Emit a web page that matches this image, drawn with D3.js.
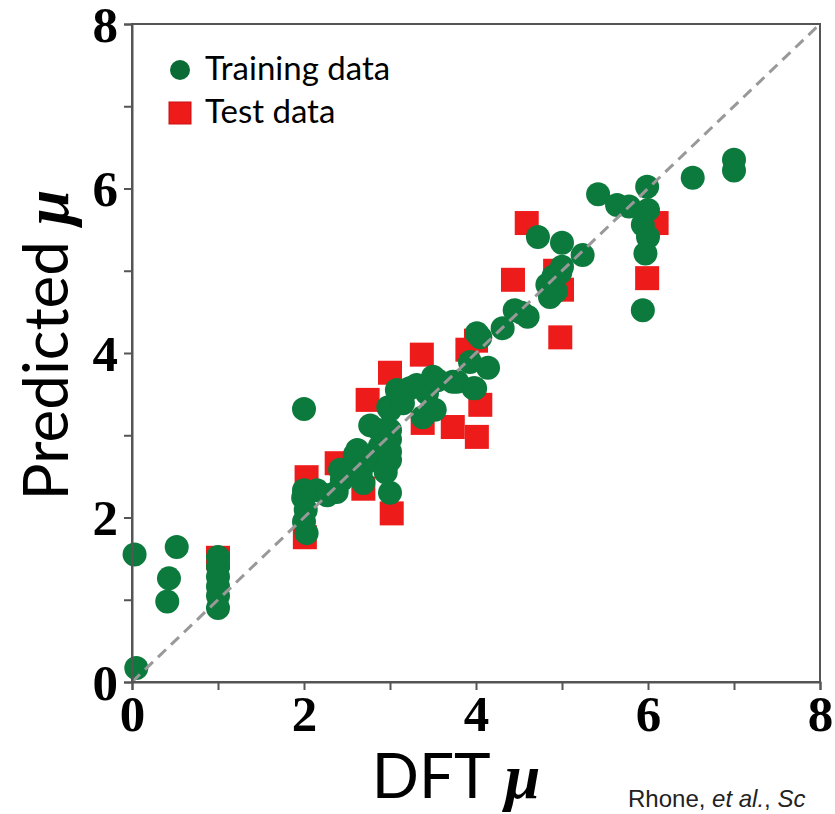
<!DOCTYPE html>
<html><head><meta charset="utf-8">
<script src="https://cdn.jsdelivr.net/npm/d3@7"></script>
<style>body{margin:0;background:#fff;}svg{display:block;}</style>
</head><body>
<script>
const trainX = [0.03,0.05,0.52,0.43,0.41,1,1,1,1,1,1,
 2.0,2.0,1.99,2.02,2.03,2.0,2.15,2.27,2.38,2.44,2.42,2.55,2.59,2.62,2.69,2.66,2.77,2.88,2.8,2.97,3.0,2.95,3.0,3.0,2.98,2.88,3.0,3.0,3.0,
 3.08,3.14,3.15,3.23,3.31,3.38,3.43,3.5,3.52,3.55,3.73,3.78,3.97,3.99,3.93,4.14,4.01,4.05,4.31,4.45,4.6,4.53,
 4.83,4.9,5.0,4.86,4.93,4.98,4.72,5.0,5.24,5.42,5.64,5.78,5.99,6.0,5.94,6.0,5.97,5.94,6.52,7.0,7.0];
const trainY = [1.55,0.17,1.64,1.26,0.98,1.52,1.4,1.28,1.16,1.05,0.9,
 3.32,2.33,2.24,2.09,1.81,1.95,2.33,2.27,2.31,2.46,2.58,2.6,2.76,2.82,2.42,2.55,3.12,2.86,2.7,2.66,2.3,2.55,2.8,2.95,3.34,3.06,3.31,3.06,2.7,
 3.55,3.53,3.39,3.57,3.61,3.22,3.51,3.71,3.31,3.67,3.65,3.65,3.57,3.57,3.89,3.82,4.24,4.19,4.3,4.52,4.44,4.49,
 4.83,4.93,5.05,4.68,4.75,4.98,5.41,5.34,5.19,5.93,5.8,5.78,6.02,5.74,5.56,5.41,5.21,4.52,6.13,6.35,6.22];
const testX = [1.0,2.03,2.01,2.38,2.69,2.74,3.02,3.0,3.37,3.38,3.73,4.01,4.05,3.9,4.0,4.43,4.59,4.98,5.0,4.92,5.99,6.1];
const testY = [1.51,2.49,1.76,2.66,2.35,3.43,2.05,3.76,3.98,3.15,3.1,2.98,3.37,4.04,4.15,4.89,5.58,4.19,4.77,5.0,4.91,5.58];
const xTicks = [0,1,2,3,4,5,6,7,8];
const yTicks = [0,1,2,3,4,5,6,7,8];
const tickLabels = ["0","","2","","4","","6","","8"];
const legendLabels = ["Training data","Test data"];

const W=835,H=814;
const L=132,R=820,T=24,B=682;
const svg=d3.select("body").append("svg").attr("width",W).attr("height",H);
const x=d3.scaleLinear().domain([0,8]).range([L,R]);
const y=d3.scaleLinear().domain([0,8]).range([B,T]);

const green="#0b7a3c", red="#ee1b1b";

// test squares
const S=24;
svg.append("g").selectAll("rect").data(testX.map((v,i)=>[v,testY[i]])).join("rect")
 .attr("x",d=>x(d[0])-S/2).attr("y",d=>y(d[1])-S/2).attr("width",S).attr("height",S).attr("fill",red);
// training circles
svg.append("g").selectAll("circle").data(trainX.map((v,i)=>[v,trainY[i]])).join("circle")
 .attr("cx",d=>x(d[0])).attr("cy",d=>y(d[1])).attr("r",12).attr("fill",green);

// diagonal
svg.append("line").attr("x1",x(0)).attr("y1",y(0)).attr("x2",x(8)).attr("y2",y(8))
 .attr("stroke","#999").attr("stroke-width",3).attr("stroke-dasharray","11,7");

// frame
svg.append("rect").attr("x",L).attr("y",T).attr("width",R-L).attr("height",B-T)
 .attr("fill","none").attr("stroke","#555").attr("stroke-width",2);

const fmt=(d,i)=>tickLabels[i];
const xa=svg.append("g").attr("transform",`translate(0,${B})`)
 .call(d3.axisBottom(x).tickValues(xTicks).tickFormat(fmt).tickSizeOuter(0).tickSize(8).tickPadding(3));
const ya=svg.append("g").attr("transform",`translate(${L},0)`)
 .call(d3.axisLeft(y).tickValues(yTicks).tickFormat(fmt).tickSizeOuter(0).tickSize(8).tickPadding(6));
[xa,ya].forEach(a=>{
 a.select(".domain").attr("stroke","#555").attr("stroke-width",2);
 a.selectAll(".tick line").attr("stroke","#555").attr("stroke-width",2);
 a.selectAll("text").attr("fill","#000").style("font-family","'Liberation Serif',serif")
  .style("font-weight","bold").style("font-size","51px");
});
ya.selectAll("text").attr("dy","0.34em");
xa.selectAll("text").attr("dy","0.74em");

// axis titles
const yt=svg.append("text").attr("transform",`translate(68,${y(4)-8}) rotate(-90)`)
 .attr("text-anchor","middle").style("font-size","62px").style("font-family","Lato,'Open Sans',sans-serif");
yt.append("tspan").text("Predicted ");
yt.append("tspan").text("μ").style("font-family","'Liberation Serif',serif").style("font-weight","bold").style("font-style","italic").style("font-size","64px");
const xt=svg.append("text").attr("x",456).attr("y",798)
 .attr("text-anchor","middle").style("font-size","62px").style("font-family","Lato,'Open Sans',sans-serif");
xt.append("tspan").text("DFT ");
xt.append("tspan").text("μ").style("font-family","'Liberation Serif',serif").style("font-weight","bold").style("font-style","italic").style("font-size","64px");

// legend
svg.append("circle").attr("cx",180).attr("cy",70).attr("r",10).attr("fill","#0a6b35");
svg.append("rect").attr("x",169).attr("y",102).attr("width",22).attr("height",22).attr("fill",red).attr("stroke","#c81010").attr("stroke-width",1);
svg.append("text").attr("x",205).attr("y",80).text(legendLabels[0]).style("font-size","33px").style("font-family","Lato,'Open Sans',sans-serif");
svg.append("text").attr("x",205).attr("y",123).text(legendLabels[1]).style("font-size","33px").style("font-family","Lato,'Open Sans',sans-serif");

// citation
const ct=svg.append("text").attr("x",628).attr("y",807).style("font-size","24px").style("font-family","'Liberation Sans',Arial,sans-serif").attr("fill","#222");
ct.append("tspan").text("Rhone, ");
ct.append("tspan").text("et al.").style("font-style","italic");
ct.append("tspan").text(", ");
ct.append("tspan").text("Sc").style("font-style","italic");
</script>
</body></html>
